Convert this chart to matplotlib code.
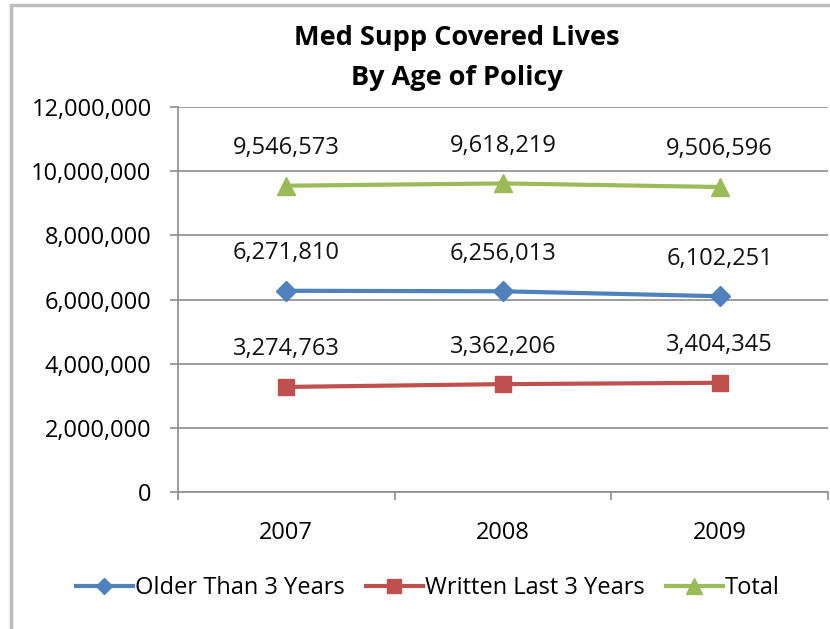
import numpy as np
import matplotlib
matplotlib.use('Agg')
from matplotlib import pyplot as plt
from matplotlib.patches import Rectangle
from matplotlib.ticker import FuncFormatter

years = ['2007', '2008', '2009']
older = [6271810, 6256013, 6102251]
written = [3274763, 3362206, 3404345]
total = [9546573, 9618219, 9506596]


def main():
    plt.rcParams['font.family'] = ['Open Sans', 'DejaVu Sans']
    fig = plt.figure(figsize=(8.3, 6.29), dpi=100)
    ax = fig.add_axes([178 / 830, 1 - 492 / 629, 650 / 830, 385 / 629])

    grey = '#8c8c8c'
    fs = 17
    x = np.arange(len(years))
    series = [
        (older, 'Older Than 3 Years', '#4f81bd', 'D', 10),
        (written, 'Written Last 3 Years', '#c0504d', 's', 12),
        (total, 'Total', '#9bbb59', '^', 13),
    ]
    for vals, name, col, mk, ms in series:
        ax.plot(x, vals, color=col, lw=3, marker=mk, ms=ms, label=name)
        for xi, v in zip(x, vals):
            ax.annotate('{:,}'.format(v), (xi, v), xytext=(0, 27),
                        textcoords='offset points', ha='center', va='center',
                        fontsize=fs, color='#111111')

    ax.set_xlim(-0.5, 2.5)
    ax.set_ylim(0, 12000000)
    ax.set_yticks(np.arange(0, 12000001, 2000000))
    ax.yaxis.set_major_formatter(FuncFormatter(lambda v, p: '{:,}'.format(int(v))))
    ax.set_xticks(x)
    ax.set_xticklabels(years)
    ax.set_xticks([-0.5, 0.5, 1.5, 2.5], minor=True)
    ax.tick_params(axis='x', which='major', length=0, pad=21, labelsize=fs)
    ax.tick_params(axis='x', which='minor', length=6, color=grey, width=1.2)
    ax.tick_params(axis='y', length=6, color=grey, width=1.2, pad=13, labelsize=fs)
    ax.grid(axis='y', color=grey, lw=1.2)
    ax.set_axisbelow(True)
    for s in ['top', 'right']:
        ax.spines[s].set_visible(False)
    for s in ['left', 'bottom']:
        ax.spines[s].set_color(grey)
        ax.spines[s].set_linewidth(1.2)

    fig.text(457 / 830, 1 - 38 / 629, 'Med Supp Covered Lives',
             ha='center', va='center', fontsize=19.5, fontweight='bold')
    fig.text(457 / 830, 1 - 78 / 629, 'By Age of Policy',
             ha='center', va='center', fontsize=19.5, fontweight='bold')

    fig.legend(loc='center', bbox_to_anchor=(428 / 830, 1 - 588 / 629), ncol=3,
               frameon=False, fontsize=fs, handlelength=2.4, handletextpad=0.1,
               columnspacing=0.9, markerscale=0.85)

    fig.patches.append(Rectangle((11 / 830, -0.1), 1.2, 1.1 - 5 / 629,
                                 transform=fig.transFigure, fill=False,
                                 edgecolor='#bdbdbd', lw=2.5))
    fig.savefig('out.png', dpi=100)


if __name__ == "__main__":
    main()
